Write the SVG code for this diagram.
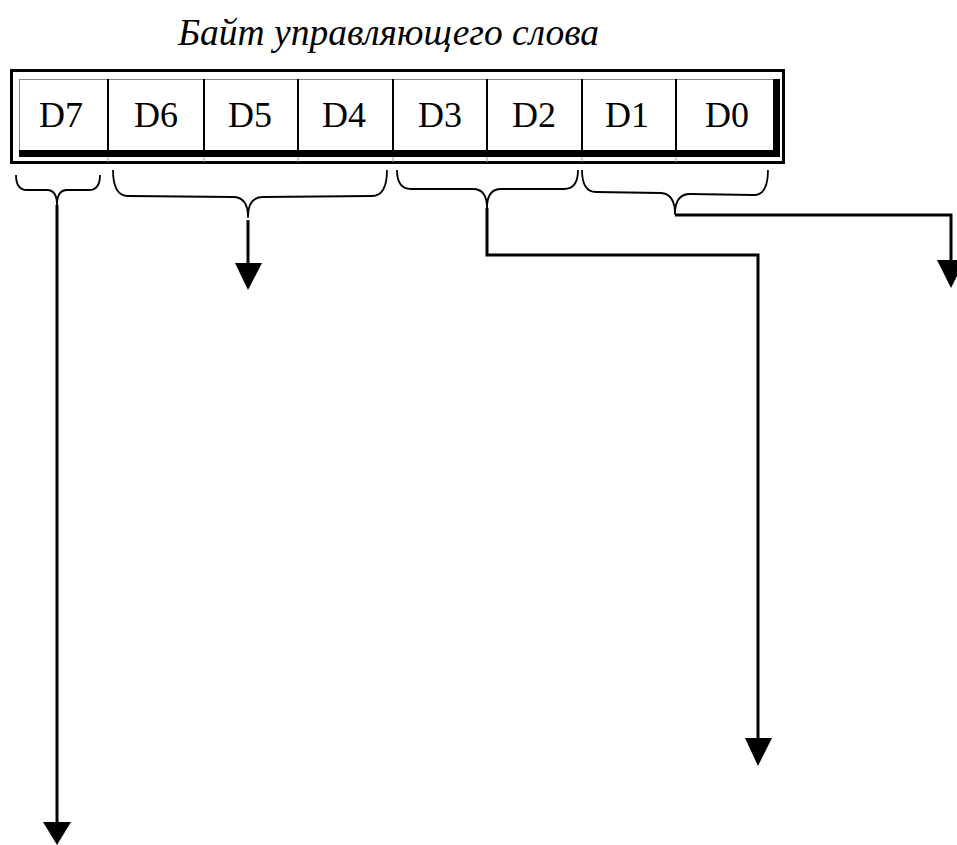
<svg xmlns="http://www.w3.org/2000/svg" width="957" height="845" viewBox="0 0 957 845">
  <style>
    .title { font-family: "Liberation Serif", "Times New Roman", serif; font-style: italic; font-size: 37.5px; fill: #000; }
    .bit { font-family: "Liberation Serif", "Times New Roman", serif; font-size: 36px; fill: #000; text-anchor: middle; }
    .divider { stroke: #000; stroke-width: 2; }
    .ghost { stroke: #999; stroke-width: 1; }
    .brace { fill: none; stroke: #000; stroke-width: 1.8; stroke-linejoin: round; }
    .wire { fill: none; stroke: #000; stroke-width: 3; }
    .head { fill: #000; }
  </style>

  <rect width="957" height="845" fill="#fff"/>

  <!-- caption -->
  <g id="title">
    <text class="title" x="178" y="45">Байт управляющего слова</text>
  </g>

  <!-- byte register with double frame -->
  <g id="register">
    <rect x="11.5" y="70.5" width="772" height="92" fill="#fff" stroke="#000" stroke-width="3"/>
    <rect x="19.5" y="79.5" width="760" height="77" fill="#fff" stroke="#888" stroke-width="1"/>
    <rect x="19" y="150" width="761" height="7" fill="#000"/>
    <rect x="773" y="79" width="7" height="78" fill="#000"/>
    <g id="dividers">
      <line class="divider" x1="108" y1="79" x2="108" y2="150"/>
      <line class="divider" x1="204" y1="79" x2="204" y2="150"/>
      <line class="divider" x1="298" y1="79" x2="298" y2="150"/>
      <line class="divider" x1="393" y1="79" x2="393" y2="150"/>
      <line class="divider" x1="487" y1="79" x2="487" y2="150"/>
      <line class="divider" x1="582" y1="79" x2="582" y2="150"/>
      <line class="divider" x1="676" y1="79" x2="676" y2="150"/>
      <line class="ghost" x1="108" y1="157" x2="108" y2="162"/>
      <line class="ghost" x1="204" y1="157" x2="204" y2="162"/>
      <line class="ghost" x1="298" y1="157" x2="298" y2="162"/>
      <line class="ghost" x1="393" y1="157" x2="393" y2="162"/>
      <line class="ghost" x1="487" y1="157" x2="487" y2="162"/>
      <line class="ghost" x1="582" y1="157" x2="582" y2="162"/>
      <line class="ghost" x1="676" y1="157" x2="676" y2="162"/>
    </g>
    <g id="bit-d7"><text class="bit" x="61" y="127">D7</text></g>
    <g id="bit-d6"><text class="bit" x="156" y="127">D6</text></g>
    <g id="bit-d5"><text class="bit" x="250" y="127">D5</text></g>
    <g id="bit-d4"><text class="bit" x="344" y="127">D4</text></g>
    <g id="bit-d3"><text class="bit" x="440" y="127">D3</text></g>
    <g id="bit-d2"><text class="bit" x="534" y="127">D2</text></g>
    <g id="bit-d1"><text class="bit" x="627" y="127">D1</text></g>
    <g id="bit-d0"><text class="bit" x="727" y="127">D0</text></g>
  </g>

  <!-- curly braces grouping the bit fields -->
  <g id="braces">
    <path id="brace-d7" class="brace" d="M16,175 Q16,190 27,190 L47,190 Q57,190 57,205 Q57,190 67,190 L89,190 Q100,190 100,175"/>
    <path id="brace-d6d4" class="brace" d="M113,170 Q113,196 128,196 L233,197 Q248,197 248,217 Q248,197 263,197 L372,196 Q387,196 387,170"/>
    <path id="brace-d3d2" class="brace" d="M397,170 Q397,189 411,189 L473,189 Q487,189 487,208 Q487,189 501,189 L564,189 Q578,189 578,170"/>
    <path id="brace-d1d0" class="brace" d="M582,170 Q582,192 596,192 L661,193 Q675,194 675,214 Q675,194 690,194 L754,195 Q768,195 768,170"/>
  </g>

  <!-- connectors -->
  <g id="connectors">
    <polyline class="wire" points="57,205 57,824"/>
    <polygon class="head" points="43,822 71,822 57,845"/>

    <polyline class="wire" points="248,220 248,265"/>
    <polygon class="head" points="235,263 262,263 248,290"/>

    <polyline class="wire" points="487,208 487,255 758,255 758,740"/>
    <polygon class="head" points="745,738 772,738 758,766"/>

    <polyline class="wire" points="675,215 951,215 951,262"/>
    <polygon class="head" points="937,260 965,260 951,288"/>
  </g>
</svg>
